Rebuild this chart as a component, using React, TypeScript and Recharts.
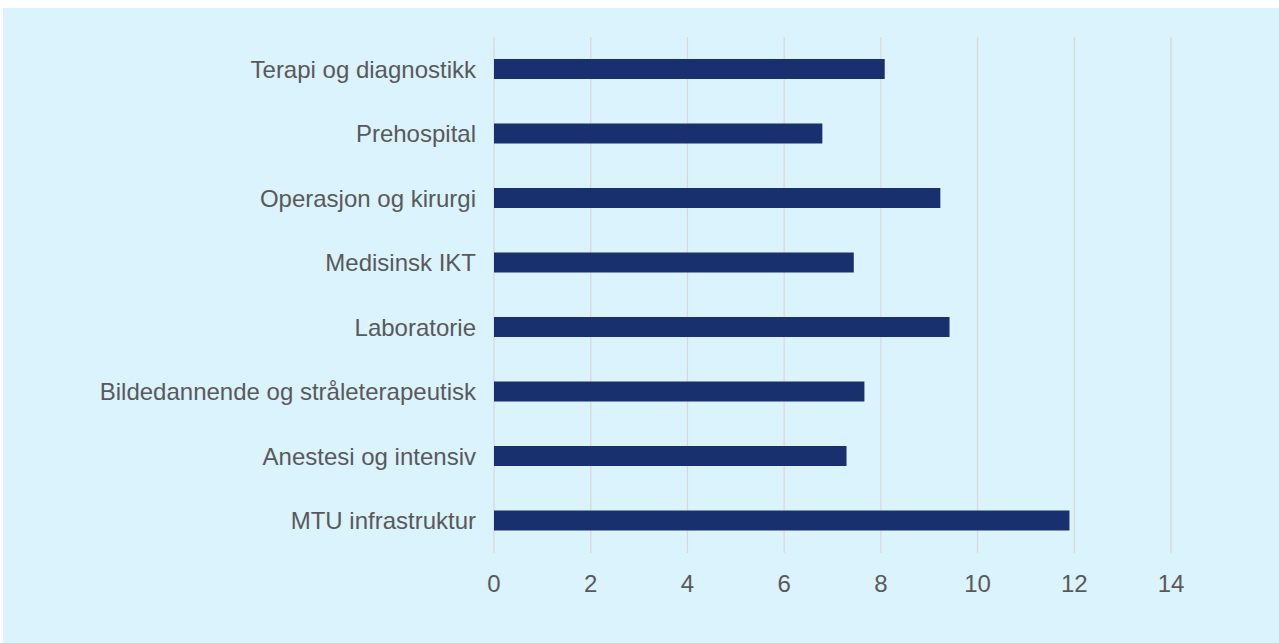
import React from "react";
import { BarChart, Bar, XAxis, YAxis, CartesianGrid } from "recharts";

const categories = [
  "Terapi og diagnostikk",
  "Prehospital",
  "Operasjon og kirurgi",
  "Medisinsk IKT",
  "Laboratorie",
  "Bildedannende og stråleterapeutisk",
  "Anestesi og intensiv",
  "MTU infrastruktur",
];
const values = [8.08, 6.79, 9.23, 7.44, 9.42, 7.66, 7.29, 11.9];
const xTicks = [0, 2, 4, 6, 8, 10, 12, 14];

const data = categories.map((name, i) => ({ name, value: values[i] }));

const FONT = "'Liberation Sans', Arial, sans-serif";
const TEXT = "#595959";

export default function App() {
  return (
    <div
      style={{
        position: "absolute",
        left: 3,
        top: 8,
        width: 1276,
        height: 635,
        background: "#DBF3FD",
      }}
    >
      <BarChart
        width={1276}
        height={635}
        data={data}
        layout="vertical"
        margin={{ top: 29, right: 108, bottom: 60, left: 0 }}
      >
        <CartesianGrid horizontal={false} vertical={true} stroke="#D9D9D9" strokeWidth={1.3} />
        <XAxis
          type="number"
          domain={[0, 14]}
          ticks={xTicks}
          axisLine={false}
          tickLine={false}
          height={30}
          tickMargin={16}
          tick={{ fill: TEXT, fontSize: 24, fontFamily: FONT }}
          interval={0}
        />
        <YAxis
          type="category"
          dataKey="name"
          width={491}
          axisLine={false}
          tickLine={false}
          tickMargin={12}
          tick={{ fill: TEXT, fontSize: 24, fontFamily: FONT }}
          interval={0}
        />
        <Bar dataKey="value" fill="#18306E" barSize={20} isAnimationActive={false} />
      </BarChart>
    </div>
  );
}
